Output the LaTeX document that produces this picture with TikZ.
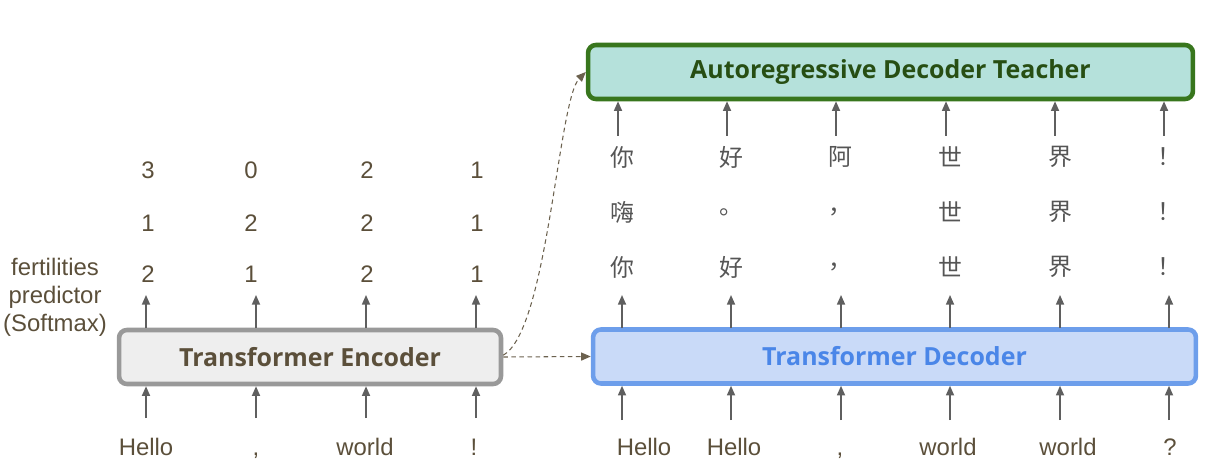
\documentclass[tikz,border=0pt]{standalone}
\usepackage{fontspec}
\setmainfont{Liberation Sans}
\newfontfamily\boxfont{Open Sans}
\newfontfamily\cjk{Noto Sans CJK SC}
\usetikzlibrary{arrows.meta}
\definecolor{arrgray}{HTML}{5F5F5F}
\definecolor{txtbrown}{HTML}{5B4F3A}
\definecolor{cjkgray}{HTML}{555555}
\definecolor{encdraw}{HTML}{999999}
\definecolor{encfill}{HTML}{EEEEEE}
\definecolor{decdraw}{HTML}{6D9EEB}
\definecolor{decfill}{HTML}{C9DAF8}
\definecolor{dectext}{HTML}{4A86E8}
\definecolor{teadraw}{HTML}{38761D}
\definecolor{teafill}{HTML}{B5E1DB}
\definecolor{teatext}{HTML}{274E13}
\begin{document}
\begin{tikzpicture}[x=0.02cm,y=-0.02cm,
  bigbox/.style={rounded corners=4.5pt, line width=2.6pt, minimum height=1.08cm,
    inner sep=0pt, font=\boxfont\bfseries\fontsize{14.2}{16}\selectfont},
  arr/.style={draw=arrgray, line width=0.85pt, -{Triangle[length=5.5pt,width=4.6pt]}},
  dasharr/.style={draw=txtbrown!90, line width=0.6pt, dash pattern=on 2.6pt off 2pt,
    -{Triangle[length=5.5pt,width=4.6pt]}},
  tok/.style={text=txtbrown, font=\fontsize{13.6}{16}\selectfont, inner sep=0pt},
  ctok/.style={text=cjkgray, font=\cjk\fontsize{13.6}{16}\selectfont, inner sep=0pt},
]
\useasboundingbox (0,0) rectangle (1212,469);

% boxes
\node[bigbox, draw=encdraw, fill=encfill, text=txtbrown, minimum width=7.64cm] (enc) at (310,357) {Transformer Encoder};
\node[bigbox, draw=decdraw, fill=decfill, text=dectext, minimum width=12.06cm] (dec) at (894.5,356.5) {Transformer Decoder};
\node[bigbox, draw=teadraw, fill=teafill, text=teatext, minimum width=12.1cm] (tea) at (890.5,72) {Autoregressive Decoder Teacher};

% fertilities label
\node[tok, align=center, font=\fontsize{13.6}{16}\selectfont] (fert) at (55,297) {fertilities\\predictor\\(Softmax)};

% encoder input tokens
\node[tok, anchor=base] (e1) at (146,455) {Hello};
\node[tok, anchor=base] (e2) at (256,455) {,};
\node[tok, anchor=base] (e3) at (365,455) {world};
\node[tok, anchor=base] (e4) at (474,455) {!};

% encoder arrows
\foreach \x [count=\i] in {146,256,366,476} {
  \coordinate (ein\i) at (\x,418);
  \draw[arr] (ein\i) -- (ein\i |- enc.south);
  \coordinate (eout\i) at (\x,328);
  \draw[arr] (eout\i) -- (\x,295);
}

% fertility numbers
\foreach \a/\b/\c [count=\i] in {2/1/3, 1/2/0, 2/2/2, 1/1/1} {
  \pgfmathsetmacro{\xx}{{148,251,367,477}[\i-1]}
  \node[tok] (fa\i) at (\xx,274) {\a};
  \node[tok] (fb\i) at (\xx,223) {\b};
  \node[tok] (fc\i) at (\xx,170) {\c};
}

% decoder input tokens
\node[tok, anchor=base] (d1) at (644,455) {Hello};
\node[tok, anchor=base] (d2) at (734,455) {Hello};
\node[tok, anchor=base] (d3) at (840,455) {,};
\node[tok, anchor=base] (d4) at (948,455) {world};
\node[tok, anchor=base] (d5) at (1068,455) {world};
\node[tok, anchor=base] (d6) at (1170,455) {?};

% decoder arrows
\foreach \x [count=\i] in {622,731,841,950,1060,1169} {
  \coordinate (din\i) at (\x,420);
  \draw[arr] (din\i) -- (din\i |- dec.south);
  \coordinate (dout\i) at (\x,328);
  \draw[arr] (dout\i) -- (\x,295);
}

% chinese rows
\foreach \p/\q/\r [count=\i] in {你/嗨/你, 好/。/好, 阿/，/，, 世/世/世, 界/界/界, ！/！/！} {
  \pgfmathsetmacro{\xx}{{622,731,840,950,1060,1169}[\i-1]}
  \node[ctok] (ca\i) at (\xx,157) {\p};
  \node[ctok] (cb\i) at (\xx,212) {\q};
  \node[ctok] (cc\i) at (\xx,267) {\r};
}

% teacher arrows
\foreach \x [count=\i] in {618,727,836,946,1055,1164} {
  \coordinate (tin\i) at (\x,136);
  \draw[arr] (tin\i) -- (tin\i |- tea.south);
}

% dashed connectors
\draw[dasharr] (enc.east) -- (dec.west);
\draw[dasharr] ([yshift=1pt]enc.east) .. controls (548,330) and (558,100) .. (tea.west);
\end{tikzpicture}
\end{document}
